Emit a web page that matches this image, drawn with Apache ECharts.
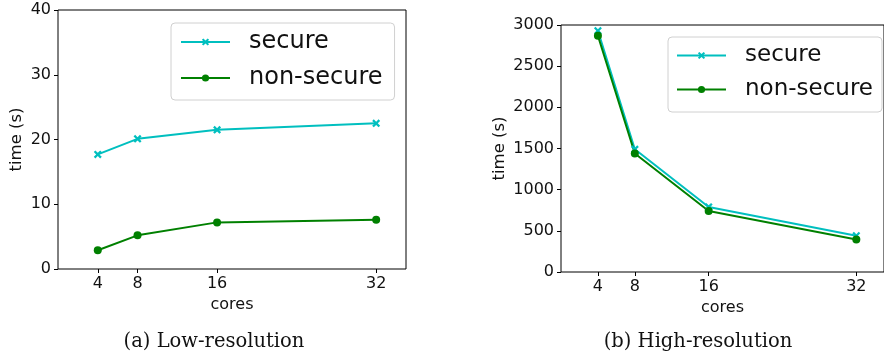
<!DOCTYPE html>
<html>
<head>
<meta charset="utf-8">
<script src="https://cdn.jsdelivr.net/npm/echarts@6/dist/echarts.min.js"></script>
<style>
  html, body { margin: 0; padding: 0; background: #fff; }
  #chart { width: 884px; height: 356px; }
</style>
</head>
<body>
<div id="chart"></div>
<script>
// cores on the x axis (same for both panels)
var cores = [4, 8, 16, 32];
var seriesNames = ['secure', 'non-secure'];

// (a) low-resolution times, seconds
var lowSecure = [17.7, 20.1, 21.5, 22.5];
var lowNonSecure = [2.9, 5.2, 7.2, 7.6];

// (b) high-resolution times, seconds
var highSecure = [2930, 1490, 790, 440];
var highNonSecure = [2870, 1440, 740, 395];

var captions = ['(a) Low-resolution', '(b) High-resolution'];

var CYAN = '#00bfbf', GREEN = '#008000';
var X_MARK = 'path://M2,0 L5,3 L8,0 L10,2 L7,5 L10,8 L8,10 L5,7 L2,10 L0,8 L3,5 L0,2 Z';
var FONT = 'DejaVu Sans';

function pairs(ys) {
  return cores.map(function (c, i) { return [c, ys[i]]; });
}

function xAxis(gi, gap) {
  return {
    type: 'value', gridIndex: gi, min: 0, max: 35,
    name: 'cores', nameLocation: 'middle', nameGap: gap,
    nameTextStyle: { fontFamily: FONT, fontSize: 16, color: '#111' },
    axisLine: { show: false },
    splitLine: { show: false },
    axisTick: { show: true, length: 4, inside: false, customValues: cores, lineStyle: { color: '#000' } },
    axisLabel: { customValues: cores, margin: 7, fontFamily: FONT, fontSize: 16, color: '#111' }
  };
}

function yAxis(gi, max, interval, gap) {
  return {
    type: 'value', gridIndex: gi, min: 0, max: max, interval: interval,
    name: 'time (s)', nameLocation: 'middle', nameGap: gap,
    nameTextStyle: { fontFamily: FONT, fontSize: 16.5, color: '#111' },
    axisLine: { show: false },
    splitLine: { show: false },
    axisTick: { show: true, length: 4, lineStyle: { color: '#000' } },
    axisLabel: {
      margin: 7, fontFamily: FONT, fontSize: 16, color: '#111',
      formatter: function (v) { return String(v); }
    }
  };
}

function line(name, gi, ys, color, sym, size) {
  return {
    name: name, type: 'line', xAxisIndex: gi, yAxisIndex: gi,
    data: pairs(ys),
    symbol: sym, symbolSize: size, showSymbol: true,
    lineStyle: { color: color, width: 2 },
    itemStyle: { color: color },
    animation: false
  };
}

function legend(left, top, fs, gap, pad) {
  return {
    orient: 'vertical', left: left, top: top,
    data: seriesNames.map(function (n) { return { name: n }; }),
    itemWidth: 49, itemHeight: 9, itemGap: gap,
    padding: pad,
    backgroundColor: 'rgba(255,255,255,0.8)',
    borderColor: '#d0d0d0', borderWidth: 1, borderRadius: 4,
    textStyle: { fontFamily: FONT, fontSize: fs, color: '#111', padding: [0, 0, 0, 14] },
    selectedMode: false
  };
}

var captionStyle = { fontFamily: 'DejaVu Serif', fontSize: 19.5, fontWeight: 'normal', color: '#111' };

var chart = echarts.init(document.getElementById('chart'), null, { renderer: 'canvas' });

chart.setOption({
  animation: false,
  backgroundColor: '#fff',
  title: [
    { text: captions[0], left: 209, top: 327, textAlign: 'center', textStyle: captionStyle },
    { text: captions[1], left: 693, top: 327, textAlign: 'center', textStyle: captionStyle }
  ],
  grid: [
    { left: 58, top: 10, width: 348, height: 259, show: true, borderColor: '#000', borderWidth: 1, backgroundColor: 'transparent' },
    { left: 561, top: 25, width: 330, height: 247, show: true, borderColor: '#000', borderWidth: 1, backgroundColor: 'transparent' }
  ],
  xAxis: [xAxis(0, 28), xAxis(1, 25)],
  yAxis: [yAxis(0, 40, 10, 33), yAxis(1, 3000, 500, 53)],
  legend: [
    legend(171, 23, 24, 12, [7, 12, 10, 9]),
    legend(668, 37, 23, 11, [7, 9, 11, 8])
  ],
  series: [
    line(seriesNames[0], 0, lowSecure, CYAN, X_MARK, 8),
    line(seriesNames[1], 0, lowNonSecure, GREEN, 'circle', 8),
    line(seriesNames[0], 1, highSecure, CYAN, X_MARK, 8),
    line(seriesNames[1], 1, highNonSecure, GREEN, 'circle', 8)
  ]
});
</script>
</body>
</html>
